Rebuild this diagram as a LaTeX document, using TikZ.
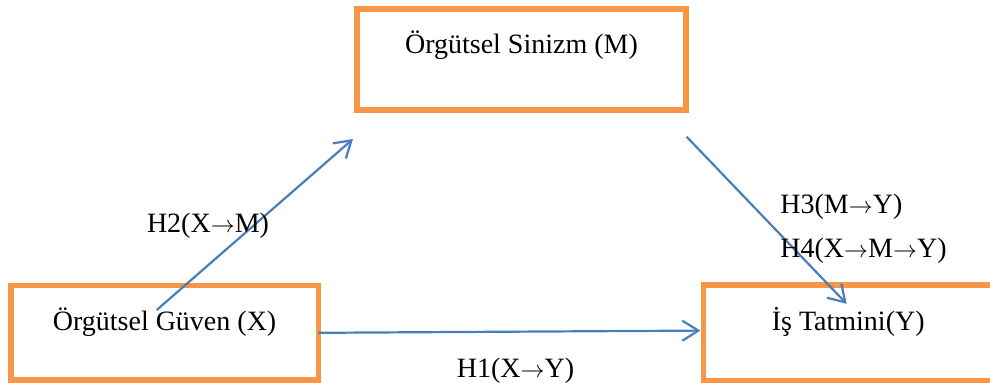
\documentclass[tikz,border=0pt]{standalone}
\usepackage{fontspec}
\setmainfont{Liberation Serif}
\usetikzlibrary{arrows.meta,positioning}
\definecolor{boxorange}{HTML}{F79646}
\definecolor{arrowblue}{HTML}{4A7EBB}
\newcommand{\harrow}{{\fontsize{12}{14}\selectfont$\rightarrow$}}

\begin{document}
\begin{tikzpicture}[
    x=1pt, y=1pt,
    font=\fontsize{14}{17}\selectfont,
    block/.style={rectangle, draw=boxorange, line width=2.75pt, outer sep=0pt, text height=10pt, text depth=12.5pt},
    arrow/.style={draw=arrowblue, line width=1.1pt, -{Straight Barb[length=8pt,width=10pt]}},
    hyp/.style={anchor=base, inner sep=0pt}
]
\useasboundingbox (0,0) rectangle (495,191);
% Nodes
\node[block, minimum width=153.85pt, minimum height=47.25pt] (guven) at (82.3,24.6) {Örgütsel Güven (X)};
\node[block, right=192.5pt of guven, minimum width=144.75pt, minimum height=47.75pt] (tatmin) {İş Tatmini(Y)};
\node[block, above right=87.75pt and 19.25pt of guven, minimum width=164.5pt, minimum height=50.5pt, text depth=16.5pt] (sinizm) {Örgütsel Sinizm (M)};

% Arrows
\draw[arrow] ([xshift=-3.95pt,yshift=11.4pt]guven.center) -- ([xshift=-2pt,yshift=-14.5pt]sinizm.south west);
\draw[arrow] (guven.east) -- ([xshift=-1.5pt,yshift=1.1pt]tatmin.west);
\draw[arrow] ([xshift=0.35pt,yshift=-13.35pt]sinizm.south east) -- ([xshift=-0.75pt,yshift=-9.4pt]tatmin.north);

% Labels
\node[hyp] (h2) at (104,75) {H2(X\harrow M)};
\node[hyp, anchor=base west] (h3) at (390,84.5) {H3(M\harrow Y)};
\node[hyp, anchor=base west] (h4) at (390,62.5) {H4(X\harrow M\harrow Y)};
\node[hyp] (h1) at (257.75,2.5) {H1(X\harrow Y)};
\end{tikzpicture}
\end{document}
